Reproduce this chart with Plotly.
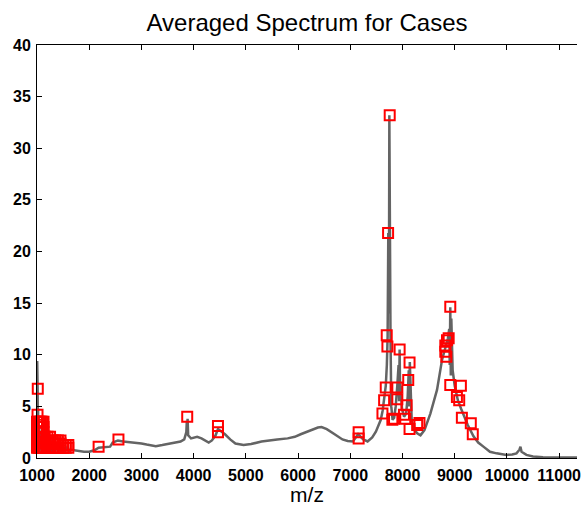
import plotly.graph_objects as go

# Averaged spectrum (m/z, intensity)
spec_mz = [1000, 1004, 1008, 1012, 1016, 1020, 1025, 1030, 1036, 1042, 1050, 1058, 1066, 1075, 1085,
           1095, 1110, 1125, 1140, 1155, 1170, 1190, 1210, 1230, 1250, 1270, 1290, 1315, 1340, 1370,
           1400, 1430, 1460, 1500, 1540, 1580, 1620, 1650, 1700, 1800, 1900, 2000, 2100, 2180, 2300,
           2400, 2450, 2550, 2650, 2768, 2900, 3000, 3100, 3275, 3400, 3600, 3750, 3820, 3860, 3870,
           3877, 3884, 3895, 3950, 4067, 4150, 4289, 4350, 4420, 4466, 4520, 4600, 4700, 4800, 4955,
           5100, 5300, 5430, 5600, 5800, 5937, 6050, 6190, 6380, 6450, 6550, 6700, 6850, 6950, 7050,
           7150, 7250, 7331, 7420, 7490, 7584, 7620, 7650, 7680, 7700, 7715, 7728, 7740, 7748, 7756,
           7762, 7770, 7785, 7810, 7840, 7870, 7900, 7925, 7935, 7945, 7955, 7965, 7990, 8030, 8070,
           8100, 8120, 8130, 8140, 8150, 8175, 8220, 8281, 8345, 8420, 8534, 8661, 8757, 8820, 8870,
           8895, 8905, 8915, 8925, 8935, 8960, 9000, 9060, 9120, 9170, 9250, 9360, 9450, 9550, 9675,
           9802, 9992, 10100, 10183, 10240, 10259, 10280, 10373, 10500, 10690, 11000, 11400]
spec_int = [0.6, 9.4, 2.0, 6.6, 1.4, 4.8, 1.0, 3.9, 0.9, 3.2, 0.8, 2.6, 0.7, 2.5, 0.7,
            2.2, 0.6, 2.1, 0.6, 2.0, 0.6, 1.9, 0.6, 1.8, 0.6, 1.7, 0.6, 1.6, 0.6, 1.5,
            0.6, 1.4, 0.6, 1.2, 0.6, 1.1, 0.7, 0.8, 0.75, 0.65, 0.6, 0.6, 0.75, 1.0, 1.05,
            1.1, 1.5, 1.7, 1.6, 1.55, 1.45, 1.4, 1.3, 1.15, 1.25, 1.45, 1.6, 1.8, 2.5, 3.6,
            2.4, 3.8, 2.2, 1.9, 2.05, 1.9, 1.5, 1.7, 2.2, 2.8, 2.6, 2.3, 1.8, 1.4, 1.25,
            1.35, 1.6, 1.7, 1.8, 1.9, 2.05, 2.3, 2.6, 2.95, 3.0, 2.8, 2.3, 1.8, 1.65, 1.6,
            2.3, 1.8, 1.6, 2.0, 2.55, 3.7, 4.6, 5.8, 7.0, 9.0, 11.8, 21.8, 14.0, 33.2, 20.0,
            32.0, 12.0, 5.0, 3.7, 3.9, 5.0, 7.0, 9.0, 5.5, 10.5, 6.0, 7.0, 4.8, 4.0, 4.3,
            6.0, 8.5, 5.0, 9.3, 7.0, 3.8, 2.8, 2.4, 2.2, 2.7, 4.3, 6.6, 9.5, 10.8, 11.6,
            12.5, 9.0, 14.6, 8.0, 13.5, 8.5, 7.0, 5.6, 4.8, 4.2, 3.2, 2.1, 1.5, 1.1, 0.6,
            0.45, 0.3, 0.35, 0.45, 0.8, 1.1, 0.6, 0.3, 0.15, 0.07, 0.05, 0.05]

# Detected peaks (red squares)
peak_mz = [1000, 1000, 1000, 1000, 1000, 1000,
           1025, 1025, 1025, 1025, 1025, 1025,
           1050, 1050, 1050, 1050, 1050, 1050,
           1075, 1075, 1075, 1075, 1075, 1075,
           1100, 1100, 1100, 1100, 1100, 1100,
           1125, 1125, 1125, 1125, 1125, 1125,
           1150, 1150, 1150, 1200, 1200, 1200, 1250, 1250, 1250,
           1300, 1300, 1300, 1350, 1350, 1350, 1400, 1400, 1400, 1450, 1450, 1450,
           1500, 1500, 1550, 1550, 1600, 1600,
           1010, 1015,
           2180, 2560, 3877, 4466, 4466, 7160, 7160,
           7755, 7724, 7698, 7711, 7945, 8135, 8110, 7679, 7901, 7648, 7901, 8078,
           7616, 7806, 7838, 8028, 8135, 8325, 8281, 8053,
           8915, 8852, 8884, 8820, 8820, 8840, 8915, 9118, 9042, 9086, 9137, 9308, 9346]
peak_int = [1.0, 1.5, 2.0, 2.5, 3.0, 3.5,
            1.0, 1.5, 2.0, 2.5, 3.0, 3.5,
            1.0, 1.5, 2.0, 2.5, 3.0, 3.5,
            1.0, 1.5, 2.0, 2.5, 3.0, 3.5,
            1.0, 1.5, 2.0, 2.5, 3.0, 3.5,
            1.0, 1.5, 2.0, 2.5, 3.0, 3.5,
            1.0, 1.5, 2.05, 1.0, 1.5, 2.05, 1.0, 1.5, 2.05,
            1.0, 1.4, 1.7, 1.0, 1.4, 1.7, 1.0, 1.4, 1.7, 1.0, 1.4, 1.7,
            1.0, 1.25, 1.0, 1.25, 1.0, 1.25,
            4.2, 6.7,
            1.1, 1.8, 4.0, 3.1, 2.5, 1.9, 2.5,
            33.2, 21.8, 11.9, 10.8, 10.5, 9.26, 7.55, 6.84, 6.84, 5.6, 5.7, 5.1,
            4.3, 3.7, 3.8, 4.2, 2.8, 3.4, 3.2, 3.8,
            14.65, 11.4, 11.6, 10.9, 10.3, 9.8, 7.07, 7.0, 5.9, 5.6, 3.9, 3.36, 2.3]

x_ticks = [1000, 2000, 3000, 4000, 5000, 6000, 7000, 8000, 9000, 10000, 11000]
y_ticks = [0, 5, 10, 15, 20, 25, 30, 35, 40]

fig = go.Figure()
fig.add_trace(go.Scatter(x=spec_mz, y=spec_int, mode="lines",
                         line=dict(color="#646464", width=2.5), hoverinfo="skip"))
fig.add_trace(go.Scatter(x=peak_mz, y=peak_int, mode="markers", cliponaxis=False,
                         marker=dict(symbol="square-open", size=10, color="#ff0000",
                                     line=dict(width=2, color="#ff0000"))))

tickfont = dict(family="Liberation Sans, Arial, sans-serif", size=16, color="black", weight="bold")
fig.update_layout(
    width=581, height=506,
    margin=dict(l=37, r=0, t=45, b=48),
    paper_bgcolor="white", plot_bgcolor="white",
    showlegend=False,
    title=dict(text="Averaged Spectrum for Cases", x=0.5, xref="paper", xanchor="center",
               y=1 - 23 / 506, yref="container", yanchor="middle",
               font=dict(family="Liberation Sans, Arial, sans-serif", size=24, color="black")),
    xaxis=dict(range=[1000, 11342], tickvals=x_ticks, ticktext=[str(v) for v in x_ticks],
               showgrid=False, zeroline=False, showline=True, linecolor="black", linewidth=1,
               mirror="ticks", ticks="inside", ticklen=5, tickcolor="black",
               tickfont=tickfont, ticklabeloverflow="allow", ticklabelstandoff=3,
               title=dict(text="m/z", standoff=7,
                          font=dict(family="Liberation Sans, Arial, sans-serif", size=21, color="black"))),
    yaxis=dict(range=[0, 40], tickvals=y_ticks, ticktext=[str(v) for v in y_ticks],
               showgrid=False, zeroline=False, showline=True, linecolor="black", linewidth=1,
               mirror=False, ticks="inside", ticklen=5, tickcolor="black",
               tickfont=tickfont, ticklabelstandoff=2),
)

fig.write_html("out.html")
